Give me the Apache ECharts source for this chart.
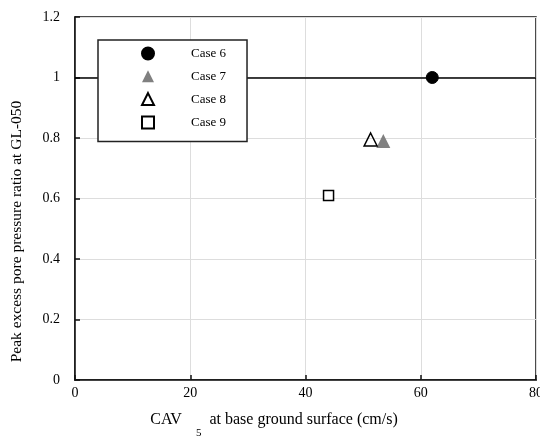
<!DOCTYPE html>
<html>
<head>
<meta charset="utf-8">
<script src="https://cdn.jsdelivr.net/npm/echarts@6/dist/echarts.min.js"></script>
<style>
  html, body { margin: 0; padding: 0; background: #fff; }
  #chart { width: 540px; height: 437px; }
</style>
</head>
<body>
<div id="chart"></div>
<script>
// data
const caseNames = ['Case 6', 'Case 7', 'Case 8', 'Case 9'];
const case6 = [[62.0, 1.0]];
const case7 = [[53.5, 0.79]];
const case8 = [[51.3, 0.795]];
const case9 = [[44.0, 0.61]];
const xTicks = [0, 20, 40, 60, 80];
const yTicks = [0, 0.2, 0.4, 0.6, 0.8, 1, 1.2];
const refLine = 1;

const font = 'Liberation Serif, Times New Roman, serif';
const chart = echarts.init(document.getElementById('chart'));

const option = {
    backgroundColor: '#fff',
    animation: false,
    textStyle: { fontFamily: font },
    grid: {
        left: 75, right: 4, top: 17, bottom: 57,
        outerBoundsMode: 'none',
        show: true, borderColor: '#111', borderWidth: 1.5
    },
    legend: {
        orient: 'vertical',
        left: 98, top: 40,
        z: 10,
        data: caseNames,
        backgroundColor: '#fff',
        borderColor: '#222',
        borderWidth: 1.5,
        borderRadius: 0,
        padding: [6.5, 21, 12, 43],
        itemWidth: 12, itemHeight: 12, itemGap: 9.3,
        textStyle: { fontFamily: font, fontSize: 13, color: '#000', padding: [0, 0, 0, 32] }
    },
    xAxis: {
        type: 'value', min: xTicks[0], max: xTicks[xTicks.length - 1], interval: 20,
        axisLine: { lineStyle: { color: '#111', width: 1.5 } },
        axisTick: { inside: true, length: 5, lineStyle: { color: '#111', width: 1.5 } },
        axisLabel: { color: '#000', fontSize: 14, fontFamily: font, margin: 6 },
        splitLine: { lineStyle: { color: '#ddd', width: 1 } },
        name: '{a|CAV}{s|5}{a| at base ground surface (cm/s)}',
        nameLocation: 'middle', nameGap: 20,
        nameTextStyle: {
            padding: [0, 63, 0, 0],
            rich: {
                a: { fontFamily: font, fontSize: 16, color: '#000' },
                s: { fontFamily: font, fontSize: 11, color: '#000', padding: [28, 4, 0, 14] }
            }
        }
    },
    yAxis: {
        type: 'value', min: yTicks[0], max: yTicks[yTicks.length - 1], interval: 0.2,
        axisLine: { lineStyle: { color: '#111', width: 1.5 } },
        axisTick: { inside: true, length: 5, lineStyle: { color: '#111', width: 1.5 } },
        axisLabel: { color: '#000', fontSize: 14, fontFamily: font, margin: 15 },
        splitLine: { lineStyle: { color: '#ddd', width: 1 } },
        name: 'Peak excess pore pressure ratio at GL-050',
        nameLocation: 'middle', nameGap: 50,
        nameTextStyle: { fontFamily: font, fontSize: 15.5, color: '#000', padding: [0, 66, 0, 0] }
    },
    series: [
        {
            name: 'Case 6', type: 'scatter', data: case6,
            symbol: 'circle', symbolSize: 12,
            itemStyle: { color: '#000', borderColor: '#000', borderWidth: 1, opacity: 1 },
            markLine: {
                silent: true, symbol: 'none', label: { show: false }, z: 1,
                lineStyle: { color: '#000', width: 1.5, type: 'solid' },
                data: [{ yAxis: refLine }]
            },
            z: 3
        },
        {
            name: 'Case 7', type: 'scatter', data: case7,
            symbol: 'triangle', symbolSize: 14,
            itemStyle: { color: '#808080', opacity: 1 }
        },
        {
            name: 'Case 8', type: 'scatter', data: case8,
            symbol: 'triangle', symbolSize: 13,
            itemStyle: { color: 'rgba(255,255,255,0)', borderColor: '#000', borderWidth: 1.5, opacity: 1 }
        },
        {
            name: 'Case 9', type: 'scatter', data: case9,
            symbol: 'rect', symbolSize: 10,
            itemStyle: { color: '#fff', borderColor: '#000', borderWidth: 1.5, opacity: 1 }
        }
    ]
};

chart.setOption(option);
</script>
</body>
</html>
